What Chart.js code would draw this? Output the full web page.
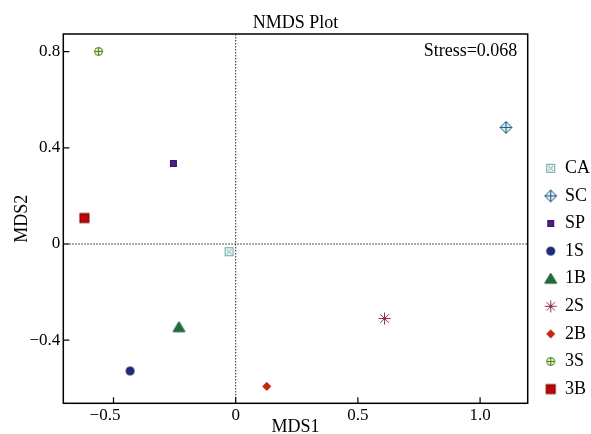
<!DOCTYPE html>
<html>
<head>
<meta charset="utf-8">
<script src="https://cdn.jsdelivr.net/npm/chart.js@4"></script>
<style>
    html, body { margin: 0; padding: 0; background: #fff; }
</style>
</head>
<body>
<canvas id="nmds-chart" width="591" height="434"></canvas>
<script>
const SERIF = "'Liberation Serif', 'Times New Roman', serif"

const groups = ['CA', 'SC', 'SP', '1S', '1B', '2S', '2B', '3S', '3B']
const mds1 = [-0.027, 1.106, -0.255, -0.432, -0.232, 0.609, 0.127, -0.561, -0.619]
const mds2 = [-0.032, 0.485, 0.335, -0.528, -0.346, -0.310, -0.592, 0.801, 0.108]

const xTickValues = [-0.5, 0, 0.5, 1.0]
const xTickLabels = ['\u22120.5', '0', '0.5', '1.0']
const yTickValues = [-0.4, 0, 0.4, 0.8]
const yTickLabels = ['\u22120.4', '0', '0.4', '0.8']

const stressText = 'Stress=0.068'

// marker shape + colours, one per group (same order as groups)
const markerShapes = ['boxX', 'diamondPlus', 'square', 'circle', 'triangle', 'asterisk', 'diamond', 'circlePlus', 'bigSquare']
const markerStroke = ['#6aa6a3', '#1f5a78', '#3c1468', '#0d1650', '#15582e', '#8a2c4e', '#a8180a', '#3f7f1f', '#6a0000']
const markerFill = ['#eef7f6', '#dcedf5', '#4f1c86', '#1d2c80', '#1e6e3c', '#8a2c4e', '#cc2410', '#f4f2c4', '#c40404']

function makeMarker(shape, stroke, fill) {
    const c = document.createElement('canvas')
    c.width = 17
    c.height = 17
    const g = c.getContext('2d')
    g.translate(8.5, 8.5)
    g.lineWidth = 1
    g.strokeStyle = stroke
    g.fillStyle = fill
    switch (shape) {
        case 'boxX':
            g.fillRect(-4, -4, 8, 8)
            g.strokeRect(-4, -4, 8, 8)
            g.beginPath()
            g.moveTo(-2.5, -2.5); g.lineTo(2.5, 2.5)
            g.moveTo(2.5, -2.5); g.lineTo(-2.5, 2.5)
            g.stroke()
            break
        case 'diamondPlus':
            g.beginPath()
            g.moveTo(0, -6); g.lineTo(6, 0); g.lineTo(0, 6); g.lineTo(-6, 0)
            g.closePath()
            g.fill(); g.stroke()
            g.beginPath()
            g.moveTo(0, -6); g.lineTo(0, 6)
            g.moveTo(-6, 0); g.lineTo(6, 0)
            g.stroke()
            break
        case 'square':
            g.fillRect(-3, -3, 6, 6)
            g.strokeRect(-3, -3, 6, 6)
            break
        case 'bigSquare':
            g.fillRect(-4.5, -4.5, 9, 9)
            g.strokeRect(-4.5, -4.5, 9, 9)
            break
        case 'circle':
            g.beginPath()
            g.arc(0, 0, 4, 0, Math.PI * 2)
            g.fill(); g.stroke()
            break
        case 'triangle':
            g.beginPath()
            g.moveTo(0, -5.5); g.lineTo(6, 4.5); g.lineTo(-6, 4.5)
            g.closePath()
            g.fill(); g.stroke()
            break
        case 'asterisk':
            g.beginPath()
            for (let k = 0; k < 4; k++) {
                const a = k * Math.PI / 4
                g.moveTo(-6 * Math.cos(a), -6 * Math.sin(a))
                g.lineTo(6 * Math.cos(a), 6 * Math.sin(a))
            }
            g.stroke()
            break
        case 'diamond':
            g.beginPath()
            g.moveTo(0, -4); g.lineTo(4, 0); g.lineTo(0, 4); g.lineTo(-4, 0)
            g.closePath()
            g.fill(); g.stroke()
            break
        case 'circlePlus':
            g.beginPath()
            g.arc(0, 0, 4, 0, Math.PI * 2)
            g.fill(); g.stroke()
            g.beginPath()
            g.moveTo(0, -4); g.lineTo(0, 4)
            g.moveTo(-4, 0); g.lineTo(4, 0)
            g.stroke()
            break
    }
    return c
}

const markerImages = groups.map((_, i) => makeMarker(markerShapes[i], markerStroke[i], markerFill[i]))

// dotted zero lines behind the points
const zeroLines = {
    id: 'zeroLines',
    beforeDatasetsDraw(chart) {
        const { ctx, chartArea: a, scales: { x, y } } = chart
        const px = x.getPixelForValue(0)
        const py = y.getPixelForValue(0)
        ctx.save()
        ctx.strokeStyle = '#222'
        ctx.lineWidth = 1
        ctx.setLineDash([1.5, 1.5])
        ctx.beginPath()
        ctx.moveTo(px, a.top); ctx.lineTo(px, a.bottom)
        ctx.moveTo(a.left, py); ctx.lineTo(a.right, py)
        ctx.stroke()
        ctx.restore()
    }
}

// box around the plot, inward ticks, stress value, legend
const frame = {
    id: 'frame',
    afterDraw(chart) {
        const { ctx, chartArea: a, scales: { x, y } } = chart
        ctx.save()
        ctx.strokeStyle = '#000'
        ctx.lineWidth = 1.5
        ctx.strokeRect(a.left, a.top, a.right - a.left, a.bottom - a.top)

        ctx.lineWidth = 1.2
        ctx.beginPath()
        xTickValues.forEach(v => {
            const p = x.getPixelForValue(v)
            ctx.moveTo(p, a.bottom); ctx.lineTo(p, a.bottom - 6)
        })
        yTickValues.forEach(v => {
            const p = y.getPixelForValue(v)
            ctx.moveTo(a.left, p); ctx.lineTo(a.left + 6, p)
        })
        ctx.stroke()

        ctx.fillStyle = '#000'
        ctx.font = '18px ' + SERIF
        ctx.textBaseline = 'middle'
        ctx.textAlign = 'right'
        ctx.fillText(stressText, a.right - 10.4, a.top + 17.2)

        ctx.textAlign = 'left'
        chart.data.datasets.forEach((ds, i) => {
            const cy = a.top + 134.3 + i * 27.6
            const img = markerImages[i]
            ctx.drawImage(img, a.right + 23 - img.width / 2, cy - img.height / 2)
            ctx.fillText(ds.label, a.right + 37.3, cy)
        })
        ctx.restore()
    }
}

const el = document.getElementById('nmds-chart')

const datasets = groups.map((name, i) => ({
    label: name,
    data: [{ x: mds1[i], y: mds2[i] }],
    pointStyle: markerImages[i],
    pointRadius: 5,
    pointHoverRadius: 5,
}))

new Chart(el, {
    type: 'scatter',
    data: { datasets: datasets },
    plugins: [zeroLines, frame],
    options: {
        responsive: false,
        animation: false,
        events: [],
        layout: { padding: { left: 0, top: 0, right: 63.3, bottom: 0 } },
        plugins: {
            legend: { display: false },
            tooltip: { enabled: false },
            title: {
                display: true,
                text: 'NMDS Plot',
                fullSize: false,
                color: '#000',
                font: { family: SERIF, size: 18, weight: 'normal' },
                padding: { top: 12.4, bottom: 0 },
            },
        },
        scales: {
            x: {
                type: 'linear',
                position: 'bottom',
                min: -0.7054,
                max: 1.1948,
                afterBuildTicks: s => { s.ticks = xTickValues.map(v => ({ value: v })) },
                afterFit: s => { s.height = 30.7 },
                grid: { display: false, drawTicks: false },
                border: { display: false },
                ticks: {
                    color: '#000',
                    padding: 2,
                    font: { family: SERIF, size: 17 },
                    // keep the digits of negative labels centred on the tick, minus sign hanging left
                    callback: v => xTickLabels[xTickValues.indexOf(v)] + (v < 0 ? '\u2007\u2007' : ''),
                },
                title: {
                    display: true,
                    text: 'MDS1',
                    color: '#000',
                    font: { family: SERIF, size: 18, lineHeight: 0.72 },
                    padding: 0,
                },
            },
            y: {
                type: 'linear',
                position: 'left',
                min: -0.6626,
                max: 0.8735,
                afterBuildTicks: s => { s.ticks = yTickValues.map(v => ({ value: v })) },
                afterFit: s => { s.width = 63.3 },
                grid: { display: false, drawTicks: false },
                border: { display: false },
                ticks: {
                    color: '#000',
                    padding: 3,
                    font: { family: SERIF, size: 17 },
                    callback: v => yTickLabels[yTickValues.indexOf(v)],
                },
                title: {
                    display: true,
                    text: 'MDS2',
                    color: '#000',
                    font: { family: SERIF, size: 18 },
                    padding: { top: 11, bottom: 0 },
                },
            },
        },
    },
})
</script>
</body>
</html>
